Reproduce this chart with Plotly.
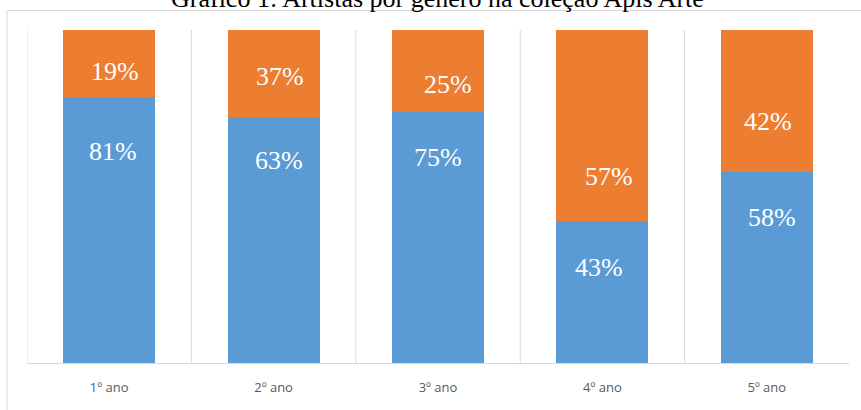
import plotly.graph_objects as go

# ---- data ----
categories = ["1º ano", "2º ano", "3º ano", "4º ano", "5º ano"]
blue_values = [80.0, 74.0, 75.5, 42.7, 57.5]      # drawn segment heights (%)
orange_values = [20.0, 26.0, 24.5, 57.3, 42.5]
blue_labels = ["81%", "63%", "75%", "43%", "58%"]
orange_labels = ["19%", "37%", "25%", "57%", "42%"]
title_text = "Gráfico 1: Artistas por gênero na coleção Apis Arte"

# label offsets (px) as placed in the original
blue_yshift = [-55, -44, -46, -47, -46]
orange_yshift = [25, 40, 27, 44, 50]
blue_xshift = [4, 5, 0, -3, 5]
orange_xshift = [6, 6, 10, 7, 1]

BLUE = "#5B9BD5"
ORANGE = "#ED7D31"
GRID = "#D9D9D9"

W, H = 861, 410
ML, MR, MT, MB = 27, 12, 30, 47
PW, PH = W - ML - MR, H - MT - MB

def px_x(px):
    return (px - ML) / PW

def px_y(py):
    return (H - MB - py) / PH

n = len(categories)
xs = list(range(n))

fig = go.Figure()
fig.add_trace(go.Bar(x=xs, y=blue_values, marker=dict(color=BLUE, line=dict(width=0)),
                     hoverinfo="skip", name="blue"))
fig.add_trace(go.Bar(x=xs, y=orange_values, marker=dict(color=ORANGE, line=dict(width=0)),
                     hoverinfo="skip", name="orange"))

label_font = dict(family="Liberation Serif, serif", size=26, color="white")
annotations = []
for i in range(n):
    annotations.append(dict(x=xs[i], y=blue_values[i], xref="x", yref="y", text=blue_labels[i],
                            showarrow=False, font=label_font, yshift=blue_yshift[i],
                            xshift=blue_xshift[i], yanchor="middle"))
    annotations.append(dict(x=xs[i], y=blue_values[i], xref="x", yref="y", text=orange_labels[i],
                            showarrow=False, font=label_font, yshift=orange_yshift[i],
                            xshift=orange_xshift[i], yanchor="middle"))
annotations.append(dict(x=px_x(437), y=px_y(8), xref="paper", yref="paper", text=title_text,
                        showarrow=False, xanchor="center", yanchor="bottom", yshift=-7,
                        font=dict(family="Liberation Serif, serif", size=26, color="black")))

shapes = []
# vertical separators between categories
for k in range(n):
    shapes.append(dict(type="line", xref="x", yref="paper", x0=k - 0.5, x1=k - 0.5, y0=0, y1=1,
                       line=dict(color=GRID, width=1), layer="below"))
# chart area border (left + top)
shapes.append(dict(type="path", xref="paper", yref="paper",
                   path=f"M {px_x(7)},{px_y(420)} L {px_x(7)},{px_y(10.5)} L {px_x(880)},{px_y(10.5)}",
                   line=dict(color=GRID, width=1)))

fig.update_layout(
    width=W, height=H,
    margin=dict(l=ML, r=MR, t=MT, b=MB, pad=0),
    barmode="stack", bargap=0.44,
    plot_bgcolor="white", paper_bgcolor="white",
    showlegend=False,
    annotations=annotations, shapes=shapes,
    xaxis=dict(range=[-0.5, n - 0.5], tickmode="array", tickvals=xs, ticktext=categories,
               showgrid=False, zeroline=False, showline=True, linecolor=GRID, linewidth=1,
               ticks="", ticklabelstandoff=12,
               tickfont=dict(family="Open Sans, sans-serif", size=13, color="#595959")),
    yaxis=dict(range=[0, 100], visible=False, showgrid=False, zeroline=False),
)

fig.write_html("out.html")
